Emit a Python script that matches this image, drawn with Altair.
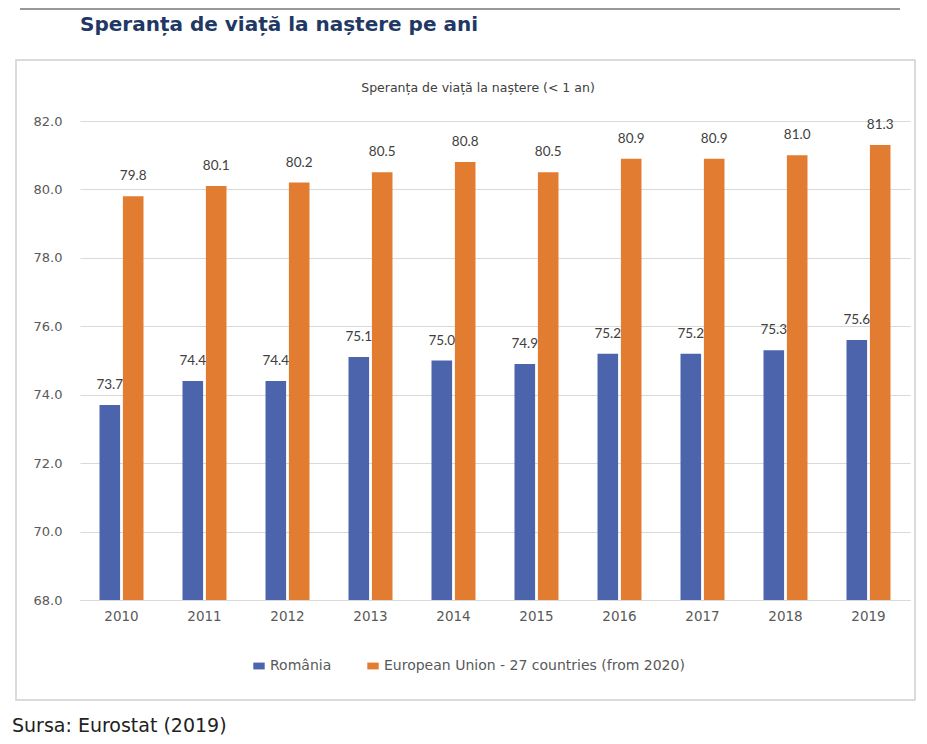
import altair as alt
import pandas as pd

years = ["2010", "2011", "2012", "2013", "2014", "2015", "2016", "2017", "2018", "2019"]
romania = [73.7, 74.4, 74.4, 75.1, 75.0, 74.9, 75.2, 75.2, 75.3, 75.6]
eu27 = [79.8, 80.1, 80.2, 80.5, 80.8, 80.5, 80.9, 80.9, 81.0, 81.3]
series_names = ["România", "European Union - 27 countries (from 2020)"]
y_ticks = [68, 70, 72, 74, 76, 78, 80, 82]

main_title = "Speranța de viață la naștere pe ani"
inner_title = "Speranța de viață la naștere (< 1 an)"
source_text = "Sursa: Eurostat (2019)"

rows = []
for i, yr in enumerate(years):
    rows.append({"year": yr, "series": series_names[0], "value": romania[i]})
    rows.append({"year": yr, "series": series_names[1], "value": eu27[i]})
df = pd.DataFrame(rows)

BLUE = "#4b64ab"
ORANGE = "#e27c30"
GREY = "#595959"
FONT = "Lato"
WIDE = "DejaVu Sans"

W, H = 830, 479

base = alt.Chart(df).encode(
    x=alt.X(
        "year:N",
        sort=years,
        scale=alt.Scale(paddingInner=0.47, paddingOuter=0.235),
        axis=alt.Axis(
            title=None, labelAngle=0, ticks=False, domainColor="#d9d9d9",
            labelPadding=9, labelColor=GREY, labelFont=WIDE, labelFontSize=13.5,
        ),
    ),
    xOffset=alt.XOffset("series:N", sort=series_names, scale=alt.Scale(paddingInner=0.12)),
)

bars = base.mark_bar().encode(
    y=alt.Y(
        "value:Q",
        scale=alt.Scale(domain=[68, 82], zero=False, nice=False),
        axis=alt.Axis(
            title=None, values=y_ticks, format=".1f", ticks=False, domain=False,
            gridColor="#d9d9d9", labelPadding=18, labelColor=GREY,
            labelFont=WIDE, labelFontSize=13,
        ),
    ),
    y2=alt.datum(68),
    color=alt.Color(
        "series:N",
        sort=series_names,
        scale=alt.Scale(domain=series_names, range=[BLUE, ORANGE]),
        legend=alt.Legend(
            title=None, orient="none", legendX=172, legendY=538,
            direction="horizontal", symbolType="M-1,-0.6H1V0.6H-1Z", symbolSize=130,
            symbolStrokeWidth=0,
            labelFont=WIDE, labelFontSize=14, labelColor=GREY,
            columnPadding=34, labelLimit=600,
        ),
    ),
)

labels = base.mark_text(dy=-20, fontSize=13.5, color="#404040", font=FONT).encode(
    y=alt.Y("value:Q"),
    text=alt.Text("value:Q", format=".1f"),
)

title_layer = alt.Chart(pd.DataFrame({"t": [main_title]})).mark_text(
    align="left", baseline="middle", font=WIDE, fontWeight="bold",
    fontSize=20, color="#1f3864",
).encode(x=alt.value(0), y=alt.value(-96), text="t:N")

inner = alt.Chart(pd.DataFrame({"t": [inner_title]})).mark_text(
    align="center", baseline="middle", font=WIDE, fontSize=12.5, color="#404040",
).encode(x=alt.value(398), y=alt.value(-33), text="t:N")

source = alt.Chart(pd.DataFrame({"t": [source_text]})).mark_text(
    align="left", baseline="middle", font=WIDE, fontSize=19, color="#222222",
).encode(x=alt.value(-68), y=alt.value(605), text="t:N")

frame = alt.Chart(pd.DataFrame({"a": [0]})).mark_rect(
    fillOpacity=0, stroke="#d0d0d0", strokeWidth=1.5,
).encode(x=alt.value(-64), x2=alt.value(835), y=alt.value(-61), y2=alt.value(579))

top_rule = alt.Chart(pd.DataFrame({"a": [0]})).mark_rule(
    color="#333333", strokeWidth=1.2,
).encode(x=alt.value(-60), x2=alt.value(820), y=alt.value(-112))

chart = alt.layer(frame, top_rule, bars, labels, title_layer, inner, source).properties(
    width=W, height=H,
    autosize=alt.AutoSizeParams(type="none"),
    padding={"left": 72, "top": 113, "right": 9, "bottom": 136},
).configure_view(stroke=None)

chart.save("out.html", embed_options={"renderer": "svg", "actions": False})
